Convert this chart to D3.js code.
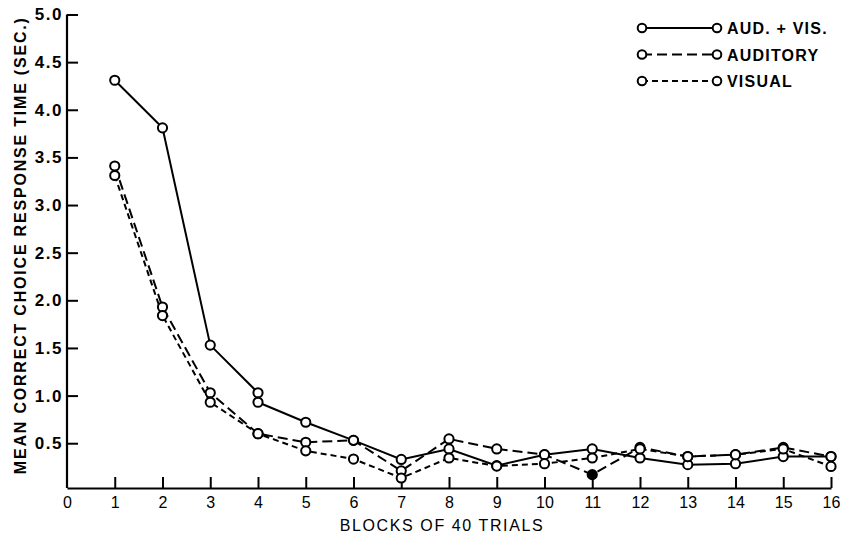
<!DOCTYPE html>
<html>
<head>
<meta charset="utf-8">
<script src="https://cdn.jsdelivr.net/npm/d3@7"></script>
<style>
  html, body { margin: 0; padding: 0; background: #fff; }
  svg { display: block; }
</style>
</head>
<body>
<svg id="chart" width="856" height="534"></svg>
<script>
// ---- data ----
const blocks = [1, 2, 3, 4, 5, 6, 7, 8, 9, 10, 11, 12, 13, 14, 15, 16];
const xTicks = [0, 1, 2, 3, 4, 5, 6, 7, 8, 9, 10, 11, 12, 13, 14, 15, 16];
const yTicks = [0.5, 1.0, 1.5, 2.0, 2.5, 3.0, 3.5, 4.0, 4.5, 5.0];
// AUD.+VIS. has two circles drawn at block 4
const avBlocks = [1, 2, 3, 4, 4, 5, 6, 7, 8, 9, 10, 11, 12, 13, 14, 15, 16];
const avValues = [4.31, 3.81, 1.53, 1.03, 0.93, 0.72, 0.53, 0.33, 0.44, 0.265, 0.38, 0.44, 0.345, 0.275, 0.285, 0.36, 0.36];
const auditoryValues = [3.41, 1.93, 1.03, 0.60, 0.51, 0.53, 0.21, 0.545, 0.44, 0.38, 0.17, 0.456, 0.36, 0.38, 0.456, 0.36];
const visualValues = [3.31, 1.84, 0.93, 0.60, 0.42, 0.334, 0.135, 0.345, 0.26, 0.285, 0.345, 0.44, 0.36, 0.38, 0.44, 0.256];
const filledAuditoryBlock = [11];
const seriesNames = ["AUD.+VIS.", "AUDITORY", "VISUAL"];
const legendLabels = ["AUD. + VIS.", "AUDITORY", "VISUAL"];

// ---- setup ----
const svg = d3.select("#chart");
const x = d3.scaleLinear().domain([0, 16]).range([67, 831]);
const y = d3.scaleLinear().domain([0.03, 5.0]).range([488, 14.5]);

const dashes = { "AUD.+VIS.": null, "AUDITORY": "10,5", "VISUAL": "6,4" };
const FONT = "'Liberation Sans', Arial, sans-serif";

// ---- axes ----
const yAxis = d3.axisLeft(y).tickValues(yTicks).tickFormat(d3.format(".1f"))
  .tickSizeInner(-11).tickSizeOuter(0).tickPadding(4);
const gy = svg.append("g").attr("transform", `translate(${x(0)},0)`).call(yAxis);
gy.select(".domain").attr("stroke-width", 2.2).attr("d", `M0,${y(0.03)}V${y(5.0)}`);
gy.selectAll(".tick line").attr("stroke-width", 2);
gy.selectAll(".tick text").attr("font-family", FONT)
  .attr("font-weight", "bold").attr("font-size", 17).attr("letter-spacing", 1.5).attr("fill", "#000");

const xAxis = d3.axisBottom(x).tickValues(xTicks).tickFormat(d3.format("d"))
  .tickSizeInner(-11).tickSizeOuter(0).tickPadding(9);
const gx = svg.append("g").attr("transform", `translate(0,${y(0.03)})`).call(xAxis);
gx.select(".domain").attr("stroke-width", 2.2);
gx.selectAll(".tick line").attr("stroke-width", 2).attr("display", d => d === 0 ? "none" : null);
gx.selectAll(".tick text").attr("font-family", FONT)
  .attr("font-size", 16).attr("fill", "#000");

// axis titles
svg.append("text")
  .attr("transform", `translate(26,${(y(0.03) + y(5.0)) / 2 - 6}) rotate(-90)`)
  .attr("text-anchor", "middle")
  .attr("font-family", FONT)
  .attr("font-weight", "bold").attr("font-size", 16)
  .attr("letter-spacing", 1.8)
  .text("MEAN CORRECT CHOICE RESPONSE TIME (SEC.)");

svg.append("text")
  .attr("x", 442).attr("y", 531)
  .attr("text-anchor", "middle")
  .attr("font-family", FONT)
  .attr("font-size", 16).attr("letter-spacing", 1.6)
  .text("BLOCKS OF 40 TRIALS");

// ---- series ----
const series = [
  { name: "AUD.+VIS.", pts: avBlocks.map((b, i) => ({ b, v: avValues[i] })) },
  { name: "AUDITORY", pts: blocks.map((b, i) => ({ b, v: auditoryValues[i] })) },
  { name: "VISUAL", pts: blocks.map((b, i) => ({ b, v: visualValues[i] })) }
];

const line = d3.line().x(d => x(d.b)).y(d => y(d.v));

series.forEach(s => {
  svg.append("path").datum(s.pts)
    .attr("d", line)
    .attr("fill", "none").attr("stroke", "#000").attr("stroke-width", 2)
    .attr("stroke-dasharray", dashes[s.name]);
});
series.forEach(s => {
  svg.append("g").selectAll("circle").data(s.pts).join("circle")
    .attr("cx", d => x(d.b)).attr("cy", d => y(d.v)).attr("r", 4.6)
    .attr("fill", d => (s.name === "AUDITORY" && filledAuditoryBlock.includes(d.b)) ? "#000" : "#fff")
    .attr("stroke", "#000").attr("stroke-width", 2);
});

// ---- legend ----
const lg = svg.append("g");
seriesNames.forEach((name, i) => {
  const ly = 28 + i * 26.5;
  lg.append("line").attr("x1", 642).attr("x2", 717).attr("y1", ly).attr("y2", ly)
    .attr("stroke", "#000").attr("stroke-width", 2).attr("stroke-dasharray", dashes[name]);
  [642, 717].forEach(cx => lg.append("circle").attr("cx", cx).attr("cy", ly).attr("r", 4.3)
    .attr("fill", "#fff").attr("stroke", "#000").attr("stroke-width", 2));
  lg.append("text").attr("x", 727).attr("y", ly + 6)
    .attr("font-family", FONT)
    .attr("font-weight", "bold").attr("font-size", 16).attr("letter-spacing", 1.2)
    .text(legendLabels[i]);
});
</script>
</body>
</html>
